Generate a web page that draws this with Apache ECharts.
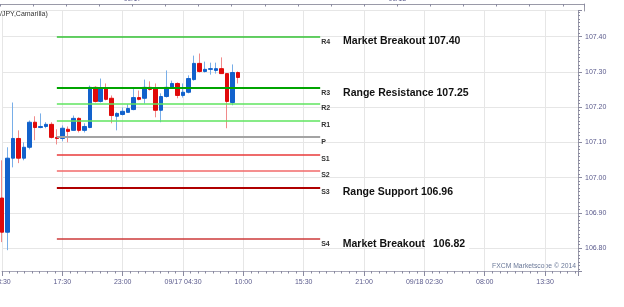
<!DOCTYPE html>
<html><head><meta charset="utf-8">
<script src="https://cdn.jsdelivr.net/npm/echarts@6/dist/echarts.min.js"></script>
<style>html,body{margin:0;padding:0;background:#fff}#c{width:624px;height:307px}</style>
</head><body><div id="c"></div>
<script>
// ---- data (30-minute candles, USD/JPY) ----
const opens  = [106.942,106.845,107.055,107.111,107.055,107.086,107.157,107.142,107.145,107.151,107.114,107.111,107.137,107.134,107.168,107.134,107.142,107.256,107.216,107.253,107.225,107.174,107.179,107.185,107.193,107.227,107.225,107.256,107.253,107.191,107.230,107.256,107.267,107.233,107.242,107.278,107.324,107.301,107.307,107.304,107.309,107.295,107.213,107.298];
const closes = [106.845,107.055,107.111,107.055,107.086,107.157,107.142,107.145,107.151,107.114,107.111,107.140,107.131,107.168,107.134,107.145,107.256,107.216,107.253,107.222,107.176,107.182,107.188,107.196,107.227,107.222,107.256,107.250,107.191,107.230,107.256,107.267,107.233,107.242,107.281,107.324,107.301,107.307,107.309,107.309,107.295,107.216,107.298,107.284];
const lows   = [106.817,106.794,107.029,107.041,107.049,107.080,107.106,107.140,107.140,107.111,107.094,107.103,107.100,107.134,107.128,107.128,107.140,107.213,107.213,107.219,107.154,107.134,107.176,107.185,107.191,107.219,107.210,107.247,107.171,107.157,107.227,107.253,107.225,107.227,107.239,107.275,107.298,107.298,107.292,107.295,107.294,107.140,107.205,107.267];
const highs  = [107.049,107.086,107.213,107.134,107.100,107.162,107.174,107.182,107.157,107.157,107.137,107.148,107.145,107.176,107.171,107.154,107.261,107.259,107.281,107.267,107.233,107.185,107.199,107.208,107.253,107.247,107.278,107.273,107.267,107.239,107.304,107.275,107.270,107.267,107.290,107.346,107.352,107.329,107.326,107.326,107.341,107.296,107.321,107.301];
const slotCount = 106;
const tickStep = 11;
const tickLabels = ['08:30','17:30','23:00','09/17 04:30','10:00','15:30','21:00','09/18 02:30','08:00','13:30'];
const pivotNames  = ['R4','R3','R2','R1','P','S1','S2','S3','S4'];
const pivotValues = [107.40,107.255,107.21,107.162,107.115,107.066,107.02,106.972,106.826];
const pivotNotes  = ['Market Breakout 107.40','Range Resistance 107.25','','','','','','Range Support 106.96','Market Breakout'];
const pivotNoteValues = ['','','','','','','','','106.82'];
const pivotFrom = 10, pivotTo = 58;
const currentPrice = 107.282;
const yMin = 106.735, yMax = 107.474;
const overviewMax = 17.64;
const overviewLabels = {4:'09/17', 12:'09/18'};
const title = '/JPY,Camarilla)';
const watermark = 'FXCM Marketscope \u00a9 2014';

// ---- styles ----
const FONT = 'Liberation Sans, Arial, sans-serif';
const pivotStyle = {
  R4:{color:'#33c233',width:1.5}, R3:{color:'#00a400',width:2.2}, R2:{color:'#5fe55f',width:1.5},
  R1:{color:'#5fe55f',width:1.5}, P:{color:'#a3a3a3',width:2}, S1:{color:'#e83a3a',width:1.5},
  S2:{color:'#f26a6a',width:1.5}, S3:{color:'#b00000',width:2.2}, S4:{color:'#cc3a3a',width:1.5}
};
const axisText = '#5a5a8c';

const categories = Array.from({length: slotCount}, (_, i) => String(i));
const full = opens.map((o, i) => [o, closes[i], lows[i], highs[i]]);
const bodies = opens.map((o, i) => [o, closes[i], Math.min(o, closes[i]), Math.max(o, closes[i])]);

const pivotLines = pivotNames.map((n, k) => {
  let f = '{p|' + n + '}';
  if (pivotNotes[k]) f += '{g|}{n|' + pivotNotes[k] + '}';
  if (pivotNoteValues[k]) f += '{w|' + pivotNoteValues[k] + '}';
  return [
    {coord:[String(pivotFrom), pivotValues[k]], lineStyle:{color:pivotStyle[n].color, width:pivotStyle[n].width, type:'solid'},
     label:{show:true, position:'end', distance:1, padding:[10,0,0,0], formatter:f,
       rich:{
         p:{fontSize:7, fontWeight:'bold', color:'#333', fontFamily:FONT},
         g:{width:13},
         n:{fontSize:10.5, fontWeight:'bold', color:'#111', fontFamily:FONT},
         w:{fontSize:10.5, fontWeight:'bold', color:'#111', fontFamily:FONT, backgroundColor:'#fff', padding:[2,4,2,8]}
       }}},
    {coord:[String(pivotTo), pivotValues[k]]}
  ];
});

const chart = echarts.init(document.getElementById('c'), null, {renderer:'canvas'});
chart.setOption({
  animation:false,
  backgroundColor:'#fff',
  title:{text:title, left:0, top:11, padding:0, textStyle:{fontSize:7, fontWeight:'normal', color:'#333', fontFamily:FONT}},
  grid:[
    {left:2, right:46, top:10.5, bottom:36, containLabel:false, outerBoundsMode:'none'},
    {left:0, right:40, top:4, height:7, containLabel:false, outerBoundsMode:'none'}
  ],
  xAxis:[
    {type:'category', data:categories, boundaryGap:false, show:false, gridIndex:0},
    {type:'value', gridIndex:0, position:'bottom', min:0, max:slotCount-1, interval:tickStep,
     axisLine:{show:true, onZero:false, lineStyle:{color:'#a8a8b8'}},
     axisTick:{show:true, length:5, lineStyle:{color:'#8a8aa0'}},
     minorTick:{show:true, splitNumber:8, length:2.5, lineStyle:{color:'#8a8aa0'}},
     axisLabel:{fontSize:7, color:axisText, fontFamily:FONT, margin:8, hideOverlap:false,
       formatter:v => (v % tickStep === 0 ? (tickLabels[v / tickStep] || '') : '')},
     splitLine:{show:true, lineStyle:{color:'#e6e6e6'}}},
    {type:'value', gridIndex:1, position:'top', min:0, max:overviewMax, interval:1,
     axisLine:{show:true, onZero:false, lineStyle:{color:'#9a9aa8'}},
     axisTick:{show:true, inside:true, length:2.5, lineStyle:{color:'#8a8aa0'}},
     axisLabel:{fontSize:7, color:axisText, fontFamily:FONT, margin:1, formatter:v => overviewLabels[v] || ''},
     splitLine:{show:false}}
  ],
  yAxis:[
    {type:'value', gridIndex:0, position:'right', min:yMin, max:yMax, splitNumber:7,
     axisLine:{show:true, onZero:false, lineStyle:{color:'#9a9aa8'}},
     axisTick:{show:true, length:4, lineStyle:{color:'#8a8aa0'}},
     minorTick:{show:true, splitNumber:10, length:2, lineStyle:{color:'#8a8aa0'}},
     axisLabel:{fontSize:7, color:axisText, fontFamily:FONT, margin:7,
       formatter:v => (Math.abs(v * 10 - Math.round(v * 10)) < 1e-6 ? v.toFixed(2) : '')},
     splitLine:{show:true, lineStyle:{color:'#e6e6e6'}}},
    {type:'value', gridIndex:1, position:'right', show:true,
     axisLine:{show:true, onZero:false, lineStyle:{color:'#9a9aa8'}}, axisTick:{show:false}, axisLabel:{show:false}, splitLine:{show:false}}
  ],
  graphic:[
    {type:'text', right:48, top:263, style:{text:watermark, fontSize:6.8, fill:'#6a7898', fontFamily:FONT}}
  ],
  series:[
    {type:'candlestick', xAxisIndex:0, yAxisIndex:0, data:full, barWidth:1, clip:false,
     itemStyle:{color:'#78aee8', color0:'#f08a8a', borderColor:'#78aee8', borderColor0:'#f08a8a', borderWidth:1}},
    {type:'candlestick', xAxisIndex:0, yAxisIndex:0, data:bodies, barWidth:4, clip:false,
     itemStyle:{color:'#1262cc', color0:'#e00a0a', borderColor:'#1262cc', borderColor0:'#e00a0a', borderWidth:1},
     markLine:{symbol:['none','none'], silent:true, animation:false,
       data: pivotLines.concat([
         {yAxis:currentPrice, lineStyle:{opacity:0, width:0},
          label:{show:true, position:'end', distance:5, formatter:String(currentPrice),
            backgroundColor:'#4cc2f0', color:'#1b2a6b', fontSize:7, fontFamily:FONT, padding:[1,1]}}
       ])}}
  ]
});
</script></body></html>
